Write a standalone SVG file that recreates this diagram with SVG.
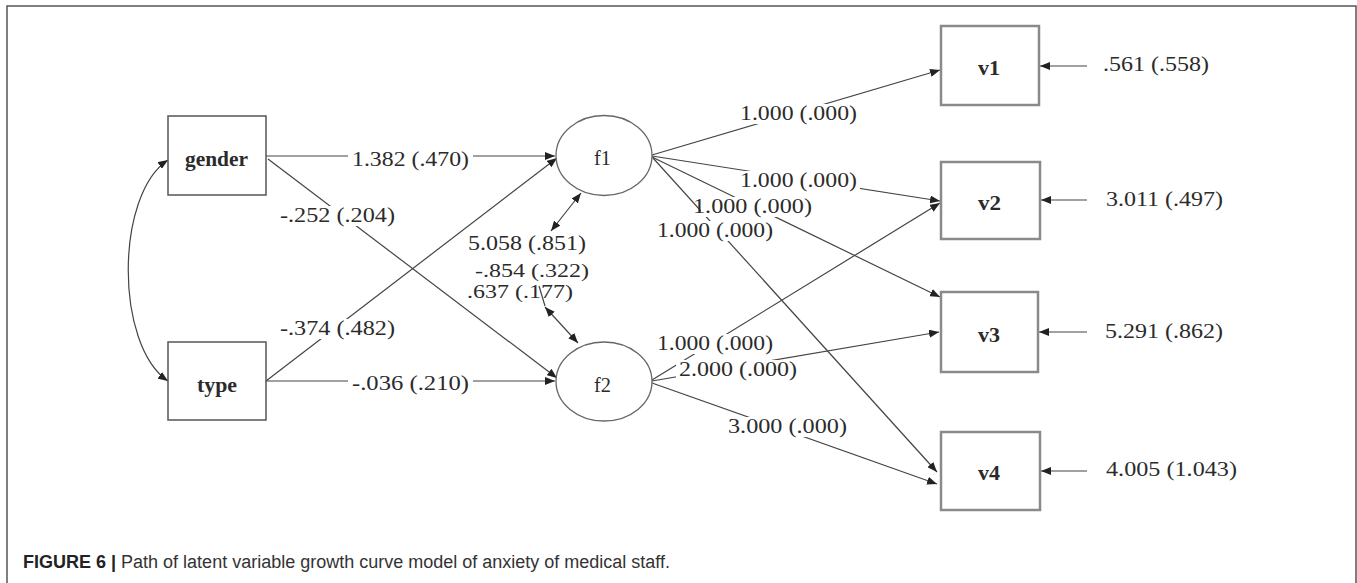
<svg xmlns="http://www.w3.org/2000/svg" width="1357" height="583" viewBox="0 0 1357 583">
  <style>
    .frame { fill: none; stroke: #555; stroke-width: 1.5; }
    .obs { fill: #fff; stroke: #555; stroke-width: 1.5; }
    .ind { fill: #fff; stroke: #8a8a8a; stroke-width: 2.5; }
    .lat { fill: #fff; stroke: #666; stroke-width: 1.3; }
    .edge { fill: none; stroke: #444; stroke-width: 1.2; marker-end: url(#ah); }
    .both { marker-start: url(#ah); }
    .plain { fill: none; stroke: #444; stroke-width: 1.2; }
    .node { font-family: "Liberation Serif", "Times New Roman", serif; font-size: 20px; fill: #2b2b2b; font-weight: bold; }
    .lbl { font-family: "Liberation Serif", "Times New Roman", serif; font-size: 20px; fill: #2b2b2b; }
    .sm { font-size: 18px; }
    .bg { fill: #fff; }
    .cap { font-family: "Liberation Sans", Arial, sans-serif; font-size: 18px; fill: #333; }
  </style>
  <defs>
    <marker id="ah" markerUnits="userSpaceOnUse" markerWidth="11" markerHeight="8" refX="10" refY="4" orient="auto-start-reverse">
      <path d="M0,0 L10,4 L0,8 z" fill="#222"/>
    </marker>
  </defs>
  <rect x="0" y="0" width="1357" height="583" fill="#fff"/>
  <path class="frame" d="M7,583 L7,6 L1356,6 L1356,583"/>

  <g id="connectors">
    <path class="edge both" d="M168,160 C115,195 115,345 168,381"/>
    <path class="edge" d="M266,156 L555,156"/>
    <path class="edge" d="M268,159 L557,378"/>
    <path class="edge" d="M266,381 L557,158"/>
    <path class="edge" d="M266,381 L555,381"/>
    <path class="edge both" d="M551,231 L581,193"/>
    <path class="plain" d="M539,286 L545,306"/>
    <path class="edge both" d="M545,307 L578,343"/>
    <path class="edge" d="M652,155 L940,70"/>
    <path class="edge" d="M652,156 L940,201"/>
    <path class="edge" d="M652,157 L940,297"/>
    <path class="edge" d="M653,158 L937,472"/>
    <path class="edge" d="M652,380 L940,203"/>
    <path class="edge" d="M652,381 L939,332"/>
    <path class="edge" d="M652,383 L937,484"/>
    <path class="edge" d="M1087,66 L1040,66"/>
    <path class="edge" d="M1087,200 L1041,200"/>
    <path class="edge" d="M1087,332 L1039,332"/>
    <path class="edge" d="M1087,471 L1041,471"/>
  </g>

  <g id="edge-labels">
    <rect class="bg" x="348" y="150" width="125" height="20"/>
    <text class="lbl" x="352" y="166" textLength="117" lengthAdjust="spacingAndGlyphs">1.382 (.470)</text>
    <rect class="bg" x="277" y="206" width="121" height="20"/>
    <text class="lbl" x="280" y="222" textLength="115" lengthAdjust="spacingAndGlyphs">-.252 (.204)</text>
    <rect class="bg" x="277" y="319" width="121" height="20"/>
    <text class="lbl" x="280" y="335" textLength="115" lengthAdjust="spacingAndGlyphs">-.374 (.482)</text>
    <rect class="bg" x="348" y="374" width="125" height="20"/>
    <text class="lbl" x="352" y="390" textLength="117" lengthAdjust="spacingAndGlyphs">-.036 (.210)</text>
    <text class="lbl" x="468" y="250" textLength="118" lengthAdjust="spacingAndGlyphs">5.058 (.851)</text>
    <text class="lbl sm" x="475" y="277" textLength="114" lengthAdjust="spacingAndGlyphs">-.854 (.322)</text>
    <text class="lbl sm" x="467" y="298" textLength="106" lengthAdjust="spacingAndGlyphs">.637 (.177)</text>
    <rect class="bg" x="737" y="104" width="123" height="20"/>
    <text class="lbl" x="740" y="120" textLength="117" lengthAdjust="spacingAndGlyphs">1.000 (.000)</text>
    <rect class="bg" x="737" y="171" width="123" height="20"/>
    <text class="lbl" x="740" y="187" textLength="117" lengthAdjust="spacingAndGlyphs">1.000 (.000)</text>
    <rect class="bg" x="701" y="197" width="114" height="20"/>
    <text class="lbl" x="693" y="213" textLength="119" lengthAdjust="spacingAndGlyphs">1.000 (.000)</text>
    <rect class="bg" x="654" y="221" width="122" height="20"/>
    <text class="lbl" x="657" y="237" textLength="116" lengthAdjust="spacingAndGlyphs">1.000 (.000)</text>
    <rect class="bg" x="654" y="334" width="122" height="20"/>
    <text class="lbl" x="657" y="350" textLength="116" lengthAdjust="spacingAndGlyphs">1.000 (.000)</text>
    <rect class="bg" x="676" y="360" width="124" height="20"/>
    <text class="lbl" x="679" y="376" textLength="118" lengthAdjust="spacingAndGlyphs">2.000 (.000)</text>
    <rect class="bg" x="725" y="417" width="125" height="20"/>
    <text class="lbl" x="728" y="433" textLength="119" lengthAdjust="spacingAndGlyphs">3.000 (.000)</text>
    <text class="lbl" x="1103" y="71" textLength="106" lengthAdjust="spacingAndGlyphs">.561 (.558)</text>
    <text class="lbl" x="1106" y="206" textLength="117" lengthAdjust="spacingAndGlyphs">3.011 (.497)</text>
    <text class="lbl" x="1105" y="338" textLength="118" lengthAdjust="spacingAndGlyphs">5.291 (.862)</text>
    <text class="lbl" x="1106" y="476" textLength="131" lengthAdjust="spacingAndGlyphs">4.005 (1.043)</text>
  </g>

  <g id="gender">
    <rect class="obs" x="168" y="116" width="98" height="79"/>
    <text class="node" x="185" y="166" textLength="63" lengthAdjust="spacingAndGlyphs">gender</text>
  </g>
  <g id="type">
    <rect class="obs" x="168" y="342" width="98" height="78"/>
    <text class="node" x="197" y="392" textLength="40" lengthAdjust="spacingAndGlyphs">type</text>
  </g>
  <g id="f1">
    <ellipse class="lat" cx="604" cy="155.5" rx="48" ry="40"/>
    <text class="lbl" x="594" y="165" textLength="17" lengthAdjust="spacingAndGlyphs">f1</text>
  </g>
  <g id="f2">
    <ellipse class="lat" cx="604" cy="381.5" rx="48" ry="39.5"/>
    <text class="lbl" x="594" y="392" textLength="17" lengthAdjust="spacingAndGlyphs">f2</text>
  </g>
  <g id="v1">
    <rect class="ind" x="941" y="26" width="98" height="79"/>
    <text class="node" x="978" y="75" textLength="22" lengthAdjust="spacingAndGlyphs">v1</text>
  </g>
  <g id="v2">
    <rect class="ind" x="941" y="162" width="99" height="77"/>
    <text class="node" x="978" y="210" textLength="23" lengthAdjust="spacingAndGlyphs">v2</text>
  </g>
  <g id="v3">
    <rect class="ind" x="941" y="292" width="97" height="80"/>
    <text class="node" x="978" y="342" textLength="22" lengthAdjust="spacingAndGlyphs">v3</text>
  </g>
  <g id="v4">
    <rect class="ind" x="941" y="432" width="99" height="78"/>
    <text class="node" x="978" y="480" textLength="22" lengthAdjust="spacingAndGlyphs">v4</text>
  </g>

  <text class="cap" x="23" y="568"><tspan font-weight="bold" fill="#222">FIGURE 6 |</tspan> Path of latent variable growth curve model of anxiety of medical staff.</text>
</svg>
